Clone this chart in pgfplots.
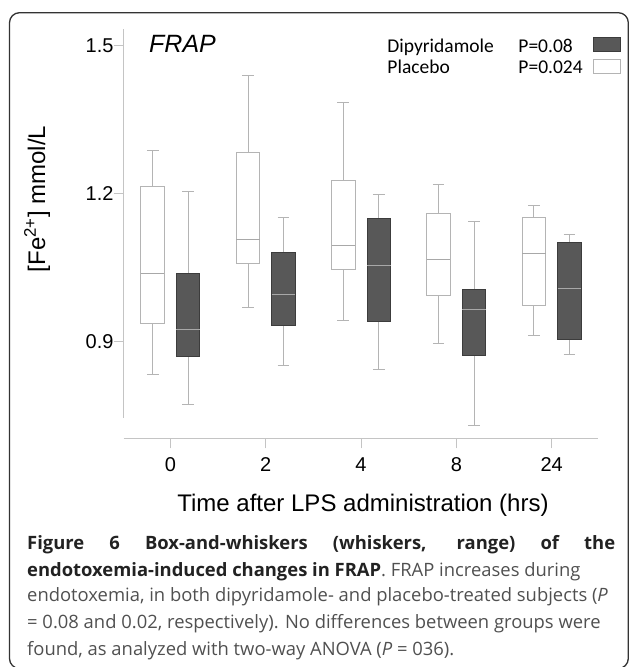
\documentclass[border=0pt]{standalone}
\usepackage{fontspec}
\usepackage{pgfplots}
\pgfplotsset{compat=1.18}
\usepgfplotslibrary{statistics}
\newfontfamily\arial{Liberation Sans}
\newfontfamily\calibri{Carlito}
\newfontfamily\capfont{Open Sans}
\definecolor{darkbox}{HTML}{585858}
\definecolor{darkedge}{HTML}{3C3C3C}
\definecolor{lgray}{HTML}{B4B4B4}
\definecolor{axgray}{HTML}{C4C4C4}
\definecolor{medgray}{HTML}{A8A8A8}
\definecolor{frame}{HTML}{333333}
\definecolor{captxt}{HTML}{505050}
\definecolor{capbold}{HTML}{222222}
\pgfplotsset{
  placebo/.style={solid, draw=lgray, line width=0.9pt,
    boxplot/every box/.style={draw=lgray, fill=white},
    boxplot/every whisker/.style={draw=lgray},
    boxplot/every median/.style={draw=medgray}},
  dipy/.style={solid, draw=lgray, line width=0.9pt,
    boxplot/every box/.style={draw=darkedge, fill=darkbox},
    boxplot/every whisker/.style={draw=lgray},
    boxplot/every median/.style={draw=medgray}},
}
\begin{document}
\begin{tikzpicture}[x=1pt,y=1pt]
\useasboundingbox (0,0) rectangle (629,667);
\draw[line width=1.3pt, color=frame, rounded corners=10pt] (9.5,654.3) rectangle (628.3,-1.5);
\begin{axis}[
  at={(123.7pt,228.7pt)}, anchor=south west,
  scale only axis, width=474.3pt, height=409.3pt,
  xmin=-0.49, xmax=4.486, ymin=0.703, ymax=1.533,
  axis x line*=bottom, axis y line*=left,
  y axis line style={draw=none},
  x axis line style={draw=axgray, line width=0.9pt},
  tick style={draw=axgray, line width=0.9pt},
  tick align=outside, major tick length=10pt,
  xtick={0,1,2,3,4}, xticklabels={0,2,4,8,24},
  ytick={0.9,1.2,1.5}, yticklabels={0.9,1.2,1.5},
  ticklabel style={font=\arial\fontsize{20}{24}\selectfont, inner sep=0pt},
  xticklabel style={anchor=north, yshift=-9pt},
  yticklabel style={anchor=east},
  clip=false,
  xlabel={Time after LPS administration (hrs)},
  xlabel style={font=\arial\fontsize{24}{28}\selectfont, at={(axis description cs:0.5045,-0.179)}, anchor=base, inner sep=0pt},
  ylabel={[Fe\textsuperscript{2+}] mmol/L},
  ylabel style={font=\arial\fontsize{24}{28}\selectfont, at={(axis description cs:-0.1659,0.5847)}, anchor=base, inner sep=0pt},
  legend style={at={(axis description cs:1.0485,0.9814)}, anchor=north east, draw=none, fill=none, inner sep=0pt, row sep=1.7pt,
    nodes={inner sep=0pt, text height=15pt, text depth=5pt, font=\calibri\fontsize{19.5}{22}\selectfont}},
  legend cell align=left, legend plot pos=right,
]
\addlegendimage{legend image code/.code={\path (0pt,0pt); \draw[draw=darkedge, fill=darkbox, line width=0.8pt] (10.5pt,-4.2pt) rectangle (37.5pt,9.8pt);}}
\addlegendentry{\makebox[131pt][l]{Dipyridamole}P=0.08}
\addlegendimage{legend image code/.code={\path (0pt,0pt); \draw[draw=lgray, fill=white, line width=0.8pt] (10.5pt,-4.2pt) rectangle (37.5pt,9.8pt);}}
\addlegendentry{\makebox[131pt][l]{Placebo}P=0.024}
% Placebo boxes (white)
\addplot[placebo, boxplot prepared={draw direction=y, box extend=0.247, whisker extend=0.123, draw position=-0.186, lower whisker=0.832, lower quartile=0.935, median=1.038, upper quartile=1.2135, upper whisker=1.2865}] coordinates {};
\addplot[placebo, boxplot prepared={draw direction=y, box extend=0.247, whisker extend=0.123, draw position=0.814, lower whisker=0.969, lower quartile=1.058, median=1.107, upper quartile=1.283, upper whisker=1.439}] coordinates {};
\addplot[placebo, boxplot prepared={draw direction=y, box extend=0.247, whisker extend=0.123, draw position=1.814, lower whisker=0.942, lower quartile=1.046, median=1.094, upper quartile=1.226, upper whisker=1.385}] coordinates {};
\addplot[placebo, boxplot prepared={draw direction=y, box extend=0.247, whisker extend=0.123, draw position=2.814, lower whisker=0.895, lower quartile=0.992, median=1.065, upper quartile=1.159, upper whisker=1.218}] coordinates {};
\addplot[placebo, boxplot prepared={draw direction=y, box extend=0.247, whisker extend=0.123, draw position=3.814, lower whisker=0.912, lower quartile=0.972, median=1.077, upper quartile=1.151, upper whisker=1.176}] coordinates {};
% Dipyridamole boxes (dark)
\addplot[dipy, boxplot prepared={draw direction=y, box extend=0.247, whisker extend=0.123, draw position=0.186, lower whisker=0.771, lower quartile=0.869, median=0.924, upper quartile=1.0365, upper whisker=1.203}] coordinates {};
\addplot[dipy, boxplot prepared={draw direction=y, box extend=0.247, whisker extend=0.123, draw position=1.186, lower whisker=0.851, lower quartile=0.932, median=0.995, upper quartile=1.080, upper whisker=1.151}] coordinates {};
\addplot[dipy, boxplot prepared={draw direction=y, box extend=0.247, whisker extend=0.123, draw position=2.186, lower whisker=0.843, lower quartile=0.939, median=1.053, upper quartile=1.149, upper whisker=1.197}] coordinates {};
\addplot[dipy, boxplot prepared={draw direction=y, box extend=0.247, whisker extend=0.123, draw position=3.186, lower whisker=0.730, lower quartile=0.871, median=0.965, upper quartile=1.004, upper whisker=1.143}] coordinates {};
\addplot[dipy, boxplot prepared={draw direction=y, box extend=0.247, whisker extend=0.123, draw position=4.186, lower whisker=0.874, lower quartile=0.903, median=1.006, upper quartile=1.101, upper whisker=1.116}] coordinates {};
\draw[axgray, line width=0.9pt] (axis cs:-0.49,0.745) -- (axis cs:-0.49,1.533);
\node[anchor=base west, inner sep=0pt, font=\arial\itshape\fontsize{25}{30}\selectfont] at (axis description cs:0.0533,0.9414) {FRAP};
\end{axis}
\begin{scope}[every node/.style={anchor=base west, inner sep=0pt, font=\capfont\fontsize{18.4}{22}\selectfont, text=captxt}]
\node at (27,117) {\makebox[588pt][s]{\color{capbold}\bfseries Figure 6 Box-and-whiskers (whiskers, range) of the}};
\node at (27,90.3) {{\color{capbold}\bfseries endotoxemia-induced changes in FRAP}. FRAP increases during};
\node at (27,65) {endotoxemia, in both dipyridamole- and placebo-treated subjects (\textit{P}};
\node at (27,38) {= 0.08 and 0.02, respectively). No differences between groups were};
\node at (27,12) {found, as analyzed with two-way ANOVA (\textit{P} = 036).};
\end{scope}
\end{tikzpicture}
\end{document}
